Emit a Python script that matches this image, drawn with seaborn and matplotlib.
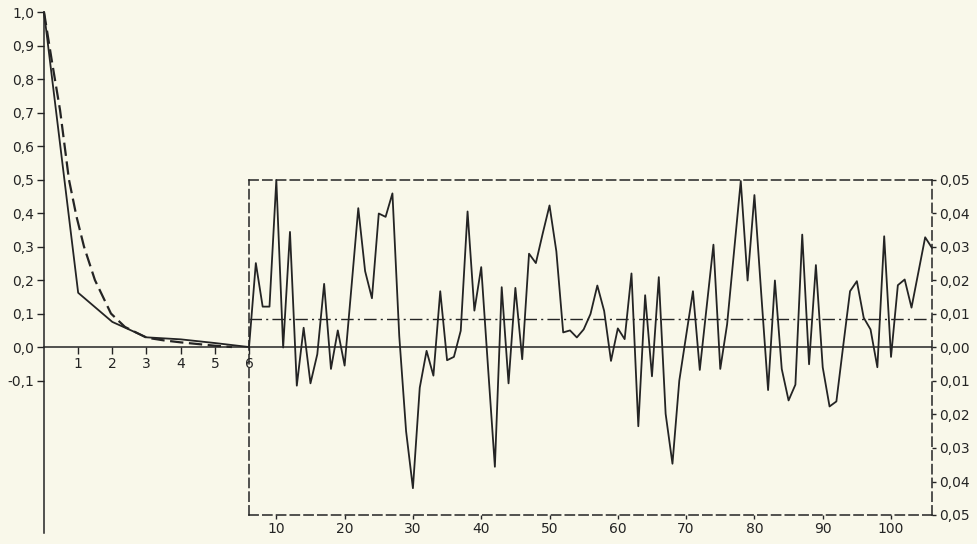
import numpy as np
import pandas as pd
import matplotlib
matplotlib.use("Agg")
import matplotlib.pyplot as plt
import seaborn as sns

# ---------------------------------------------------------------
# Short lags (0..6): sample autocorrelation and fitted decay curve
# ---------------------------------------------------------------
short_lags = [0, 1, 2, 3, 4, 5, 6]
short_acf = [1.0, 0.162, 0.075, 0.029, 0.023, 0.012, 0.0]

fit_lags = [0, 0.22, 0.47, 0.73, 0.95, 1.17, 1.49, 1.96, 2.37, 3.0, 3.5, 4.0, 4.5, 5.0, 5.5]
fit_acf = [1.0, 0.86, 0.707, 0.5, 0.39, 0.3, 0.2, 0.1, 0.06, 0.028, 0.02, 0.014, 0.009, 0.004, 0.0]

# ---------------------------------------------------------------
# Long lags (6..106): autocorrelation on the magnified right scale
# ---------------------------------------------------------------
long_lags = list(range(6, 107))
long_acf = [
    0.0,                                                                 # 6
    0.0252, 0.0122, 0.0122, 0.0500, 0.0000, 0.0345, -0.0114, 0.0059, -0.0107, -0.0020,   # 7-16
    0.0190, -0.0064, 0.0051, -0.0054, 0.0180, 0.0416, 0.0228, 0.0147, 0.0400, 0.0390,    # 17-26
    0.0460, 0.0034, -0.0250, -0.0420, -0.0120, -0.0010, -0.0084, 0.0168, -0.0038, -0.0028,  # 27-36
    0.0050, 0.0406, 0.0110, 0.0240, -0.0060, -0.0356, 0.0180, -0.0107, 0.0178, -0.0035,  # 37-46
    0.0280, 0.0252, 0.0340, 0.0424, 0.0287, 0.0045, 0.0051, 0.0030, 0.0054, 0.0100,     # 47-56
    0.0185, 0.0109, -0.0040, 0.0057, 0.0025, 0.0221, -0.0235, 0.0156, -0.0086, 0.0210,   # 57-66
    -0.0198, -0.0347, -0.0099, 0.0035, 0.0168, -0.0067, 0.0120, 0.0307, -0.0064, 0.0069,  # 67-76
    0.0283, 0.0497, 0.0200, 0.0455, 0.0160, -0.0127, 0.0200, -0.0064, -0.0158, -0.0111,  # 77-86
    0.0337, -0.0050, 0.0246, -0.0059, -0.0176, -0.0161, 0.0005, 0.0168, 0.0198, 0.0089,  # 87-96
    0.0054, -0.0059, 0.0332, -0.0028, 0.0186, 0.0203, 0.0119, 0.0224, 0.0329, 0.0297,    # 97-106
]
conf_level = 0.0086

# Tick positions and labels (decimal comma)
left_ticks = [1.0, 0.9, 0.8, 0.7, 0.6, 0.5, 0.4, 0.3, 0.2, 0.1, 0.0, -0.1]
left_labels = ["1,0", "0,9", "0,8", "0,7", "0,6", "0,5", "0,4", "0,3", "0,2", "0,1", "0,0", "-0,1"]
short_xticks = [1, 2, 3, 4, 5, 6]
short_xlabels = ["1", "2", "3", "4", "5", "6"]
long_xticks = [10, 20, 30, 40, 50, 60, 70, 80, 90, 100]
long_xlabels = ["10", "20", "30", "40", "50", "60", "70", "80", "90", "100"]
right_ticks = [0.05, 0.04, 0.03, 0.02, 0.01, 0.0, -0.01, -0.02, -0.03, -0.04, -0.05]
right_labels = ["0,05", "0,04", "0,03", "0,02", "0,01", "0,00",
                "0,01", "0,02", "0,03", "0,04", "0,05"]

PAPER = "#F9F8EA"
INK = "#242424"

sns.set_theme(style="ticks")
plt.rcParams["font.family"] = ["DejaVu Sans"]

W, H = 978, 544
fig = plt.figure(figsize=(W / 100, H / 100), dpi=100)
fig.patch.set_facecolor(PAPER)


def rect(x0, y0, x1, y1):
    return [x0 / W, 1 - y1 / H, (x1 - x0) / W, (y1 - y0) / H]


# ---- left panel ----
ax = fig.add_axes(rect(44, 12, 249, 533))
ax.set_facecolor("none")
sns.lineplot(x=short_lags, y=short_acf, ax=ax, color=INK, lw=1.3, clip_on=False)
sns.lineplot(x=fit_lags, y=fit_acf, ax=ax, color=INK, lw=1.6,
             linestyle=(0, (6, 2.5)), clip_on=False)
ax.set_xlim(0, 6)
ax.set_ylim(-0.555, 1.0)
for s in ("top", "right"):
    ax.spines[s].set_visible(False)
ax.spines["bottom"].set_position(("data", 0))
ax.spines["bottom"].set_bounds(0, 6)
for s in ("left", "bottom"):
    ax.spines[s].set_color(INK)
    ax.spines[s].set_linewidth(1.1)
ax.set_yticks(left_ticks)
ax.set_yticklabels(left_labels)
ax.set_xticks(short_xticks)
ax.set_xticklabels(short_xlabels)
ax.tick_params(axis="both", direction="out", length=5, width=1.0, color=INK,
               labelcolor=INK, labelsize=10, pad=2)
ax.set_xlabel("")
ax.set_ylabel("")

# ---- magnified long-lag box ----
ax2 = fig.add_axes(rect(249, 180, 932, 515))
ax2.set_facecolor("none")
sns.lineplot(x=long_lags, y=long_acf, ax=ax2, color=INK, lw=1.3, clip_on=False)
ax2.axhline(0, color=INK, lw=1.1)
ax2.axhline(conf_level, color=INK, lw=1.0, linestyle=(0, (9, 3, 1.5, 3)))
ax2.set_xlim(6, 106)
ax2.set_ylim(-0.05, 0.05)
for s in ax2.spines.values():
    s.set_visible(True)
    s.set_color(INK)
    s.set_linewidth(1.1)
    s.set_linestyle((0, (6, 3)))
ax2.yaxis.tick_right()
ax2.set_yticks(right_ticks)
ax2.set_yticklabels(right_labels)
ax2.set_xticks(long_xticks)
ax2.set_xticklabels(long_xlabels)
ax2.tick_params(axis="both", direction="out", length=3, width=1.0, color=INK,
                labelcolor=INK, labelsize=10, pad=2)
ax2.tick_params(axis="y", left=False, right=True)
ax2.set_xlabel("")
ax2.set_ylabel("")

fig.savefig("out.png", dpi=100, facecolor=PAPER)
